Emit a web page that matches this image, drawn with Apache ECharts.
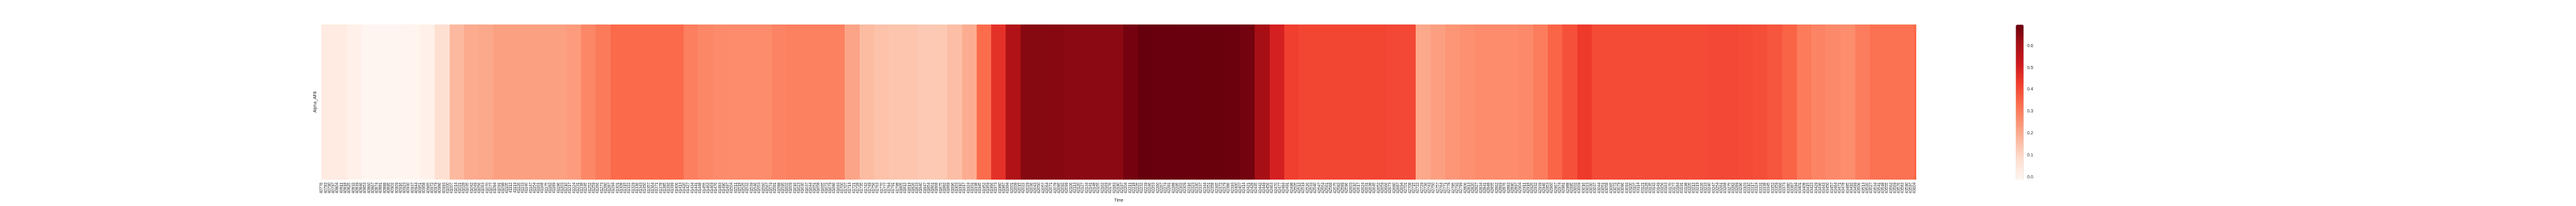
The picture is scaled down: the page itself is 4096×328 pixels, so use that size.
<!DOCTYPE html>
<html>
<head>
<meta charset="utf-8">
<script src="https://cdn.jsdelivr.net/npm/echarts@6/dist/echarts.min.js"></script>
<style>
html,body{margin:0;padding:0;background:#fff;}
#chart{width:4096px;height:328px;}
</style>
</head>
<body>
<div id="chart"></div>
<script>
// ---- data ----
const rows = ['Alpha_AF8'];
const firstDay = 40776;
const lastDay = 43606;
// day (category) at which each colour block begins
const blockStarts = [40776, 40821, 40847, 40873, 40899, 40925, 40951, 40977, 41003, 41029,
  41055, 41081, 41107, 41133, 41159, 41185, 41211, 41237, 41263, 41289,
  41315, 41341, 41367, 41393, 41419, 41445, 41471, 41497, 41523, 41549,
  41575, 41601, 41627, 41653, 41679, 41705, 41731, 41757, 41783, 41809,
  41835, 41861, 41887, 41913, 41939, 41965, 41991, 42017, 42043, 42069,
  42095, 42121, 42147, 42173, 42199, 42225, 42251, 42277, 42303, 42329,
  42355, 42381, 42407, 42433, 42459, 42485, 42511, 42537, 42563, 42589,
  42615, 42641, 42667, 42693, 42719, 42745, 42771, 42797, 42823, 42849,
  42875, 42901, 42927, 42953, 42979, 43005, 43031, 43057, 43083, 43109,
  43135, 43161, 43187, 43213, 43239, 43265, 43291, 43317, 43343, 43369,
  43395, 43421, 43447, 43473, 43499, 43525, 43551, 43577, 43603];
// value of each block
const blockValues = [0.030, 0.004, -0.013, -0.012, -0.013, -0.008, 0.004, 0.076, 0.169, 0.199,
  0.205, 0.223, 0.223, 0.223, 0.223, 0.223, 0.232, 0.277, 0.306, 0.342,
  0.342, 0.342, 0.342, 0.342, 0.295, 0.277, 0.269, 0.267, 0.267, 0.267,
  0.284, 0.290, 0.290, 0.290, 0.290, 0.214, 0.162, 0.148, 0.140, 0.140,
  0.130, 0.132, 0.158, 0.195, 0.338, 0.457, 0.582, 0.652, 0.652, 0.650,
  0.645, 0.645, 0.645, 0.645, 0.677, 0.6965, 0.695, 0.695, 0.694, 0.693,
  0.693, 0.689, 0.680, 0.604, 0.498, 0.422, 0.410, 0.410, 0.410, 0.410,
  0.410, 0.410, 0.405, 0.405, 0.206, 0.225, 0.244, 0.257, 0.267, 0.267,
  0.267, 0.272, 0.300, 0.351, 0.389, 0.434, 0.400, 0.400, 0.400, 0.400,
  0.400, 0.400, 0.400, 0.400, 0.405, 0.405, 0.400, 0.395, 0.380, 0.355,
  0.305, 0.285, 0.270, 0.265, 0.300, 0.325, 0.325, 0.325, 0.345];
const colorbarTicks = [0.0, 0.1, 0.2, 0.3, 0.4, 0.5, 0.6];
const vMin = -0.013;
const vMax = 0.6965;
const redsPalette = ['#fff5f0', '#fee0d2', '#fcbba1', '#fc9272', '#fb6a4a', '#ef3b2c', '#cb181d', '#a50f15', '#67000d'];

// ---- build category list and block cells ----
const categories = [];
for (let d = firstDay; d <= lastDay; d++) categories.push(String(d));
const cells = blockStarts.map((start, i) => {
  const endDay = i + 1 < blockStarts.length ? blockStarts[i + 1] - 1 : lastDay;
  return [start - firstDay, endDay - firstDay, 0, blockValues[i]];
});

const S = 0.568;
const font = 'Liberation Sans';
const txt = '#262626';
const plot = {left: 900 * S, top: 69 * S, width: 4464 * S, height: 435 * S};
const cbar = {left: 5643 * S, top: 69 * S, width: 22 * S, height: 435 * S};

const chart = echarts.init(document.getElementById('chart'), null, {renderer: 'canvas'});
chart.setOption({
  animation: false,
  backgroundColor: '#ffffff',
  grid: [
    {left: plot.left, top: plot.top, width: plot.width, height: plot.height, containLabel: false},
    {left: cbar.left, top: cbar.top, width: cbar.width, height: cbar.height, containLabel: false}
  ],
  xAxis: [
    {
      type: 'category', gridIndex: 0, data: categories,
      name: 'Time', nameLocation: 'middle', nameGap: 29.5,
      nameTextStyle: {fontFamily: font, fontSize: 6.8, color: txt},
      axisLine: {show: false}, axisTick: {show: false}, splitLine: {show: false},
      axisLabel: {interval: 6, rotate: 90, fontFamily: font, fontSize: 6.3, color: txt, margin: 5, hideOverlap: false}
    },
    {type: 'value', gridIndex: 1, show: false, min: 0, max: 1}
  ],
  yAxis: [
    {
      type: 'category', gridIndex: 0, data: rows,
      name: rows[0], nameLocation: 'middle', nameGap: 7, nameRotate: 90,
      nameTextStyle: {fontFamily: font, fontSize: 6.8, color: txt},
      axisLine: {show: false}, axisTick: {show: false}, axisLabel: {show: false}, splitLine: {show: false}
    },
    {
      type: 'value', gridIndex: 1, position: 'right', min: vMin, max: vMax,
      axisLine: {show: false}, splitLine: {show: false},
      axisTick: {show: true, length: 3.1, customValues: colorbarTicks, lineStyle: {color: txt, width: 0.8}},
      axisLabel: {show: true, customValues: colorbarTicks, margin: 5.5, fontFamily: font, fontSize: 7, color: txt,
        formatter: v => Number(v).toFixed(1)}
    }
  ],
  visualMap: {
    type: 'continuous', seriesIndex: 0, dimension: 3, min: vMin, max: vMax, calculable: false,
    orient: 'vertical', left: cbar.left, top: cbar.top, itemWidth: cbar.width, itemHeight: cbar.height,
    padding: 0, hoverLink: false, inRange: {color: redsPalette}
  },
  series: [{
    type: 'custom', xAxisIndex: 0, yAxisIndex: 0, data: cells,
    encode: {x: [0, 1], y: 2},
    renderItem: function (params, api) {
      const p0 = api.coord([api.value(0), api.value(2)]);
      const p1 = api.coord([api.value(1), api.value(2)]);
      const band = api.size([1, 1]);
      const x0 = Math.round(p0[0] - band[0] / 2);
      const x1 = Math.round(p1[0] + band[0] / 2);
      const y0 = Math.round(p0[1] - band[1] / 2);
      const y1 = Math.round(p0[1] + band[1] / 2);
      return {
        type: 'rect',
        shape: {x: x0, y: y0, width: x1 - x0, height: y1 - y0},
        style: {fill: api.visual('color'), stroke: null}
      };
    }
  }]
});
</script>
</body>
</html>
